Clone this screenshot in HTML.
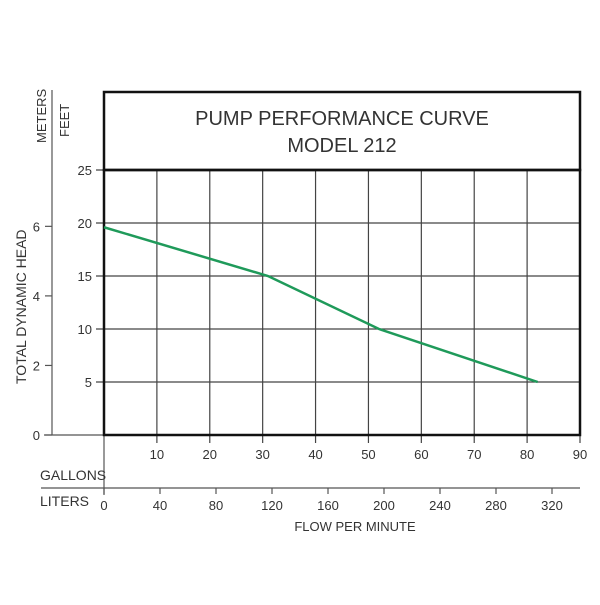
<!DOCTYPE html>
<html><head><meta charset="utf-8"><style>
body{margin:0;background:#fff}
svg text{font-family:"Liberation Sans",sans-serif;fill:#333}
</style></head><body>
<svg width="600" height="600" xmlns="http://www.w3.org/2000/svg">
<g id="g"></g>
</svg>
<script>
const gallonTicks=[10,20,30,40,50,60,70,80,90];
const literTicks=[0,40,80,120,160,200,240,280,320];
const feetTicks=[5,10,15,20,25];
const meterTicks=[0,2,4,6];
const curveGallons=[0,31,52,82];
const curveFeet=[19.6,15,10,5];
const X0=104,X1=580,Y0=435,Y1=170;
const xG=g=>X0+g*(X1-X0)/90;
const xL=l=>X0+l*56/40;
const yF=f=>Y0-f*(Y0-Y1)/25;
const yM=m=>yF(m*3.2808);
const G=document.getElementById('g');
const NS='http://www.w3.org/2000/svg';
function el(t,a,txt){const e=document.createElementNS(NS,t);for(const k in a)e.setAttribute(k,a[k]);if(txt!==undefined)e.textContent=txt;G.appendChild(e);return e;}
function line(x1,y1,x2,y2,w,c){return el('line',{x1,y1,x2,y2,stroke:c||'#444','stroke-width':w||1});}
// grid
feetTicks.forEach(f=>{
  const l=line(96,yF(f),X1,yF(f),1.2,'#444');
  
  
  const t=el('text',{x:92,y:yF(f)+5,'text-anchor':'end','font-size':13},f);
  
  
});
gallonTicks.forEach(g=>{
  const l=line(xG(g),Y1,xG(g),443,1.2,'#444');
  
  
  const t=el('text',{x:xG(g),y:459,'text-anchor':'middle','font-size':13},g);
  
  
});
// meters axis
line(52,90,52,435,1.2,'#555');
line(44,435,X0,435,1.2,'#555');
meterTicks.forEach(m=>{
  const l=line(45,yM(m),52,yM(m),1.2,'#555');
  
  
  const t=el('text',{x:40,y:yM(m)+5,'text-anchor':'end','font-size':13},m);
  
  
});
// liters axis
line(41,488,X1,488,1.2,'#555');
line(X0,435,X0,495,1.2,'#555');
literTicks.forEach(l=>{
  const k=line(xL(l),488,xL(l),494,1.2,'#555');
  
  
  const t=el('text',{x:xL(l),y:510,'text-anchor':'middle','font-size':13},l);
  
  
});
// boxes
const b1=el('rect',{x:X0,y:92,width:X1-X0,height:Y1-92,fill:'none',stroke:'#111','stroke-width':2.5});


const b2=el('rect',{x:X0,y:Y1,width:X1-X0,height:Y0-Y1,fill:'none',stroke:'#111','stroke-width':2.5});


// curve
const pts=curveGallons.map((g,i)=>xG(g)+','+yF(curveFeet[i])).join(' ');
const c=el('polyline',{points:pts,fill:'none',stroke:'#1f9a5a','stroke-width':2.5});


// texts
const texts=[
 ['chart-title',342,125,'PUMP PERFORMANCE CURVE',20,'middle',0],
 ['chart-subtitle',342,152,'MODEL 212',20,'middle',0],
 ['gallons-label',40,480,'GALLONS',14,'start',0],
 ['liters-label',40,506,'LITERS',14,'start',0],
 ['x-axis-title',355,531,'FLOW PER MINUTE',13,'middle',0],
];
texts.forEach(a=>{const t=el('text',{x:a[1],y:a[2],'font-size':a[4],'text-anchor':a[5]},a[3]);
 
 });
const r1=el('text',{transform:'translate(46,143) rotate(-90)','font-size':13},'METERS');


const r2=el('text',{transform:'translate(69,137) rotate(-90)','font-size':13},'FEET');


const r3=el('text',{transform:'translate(26,384) rotate(-90)','font-size':14},'TOTAL DYNAMIC HEAD');


</script>
</body></html>
